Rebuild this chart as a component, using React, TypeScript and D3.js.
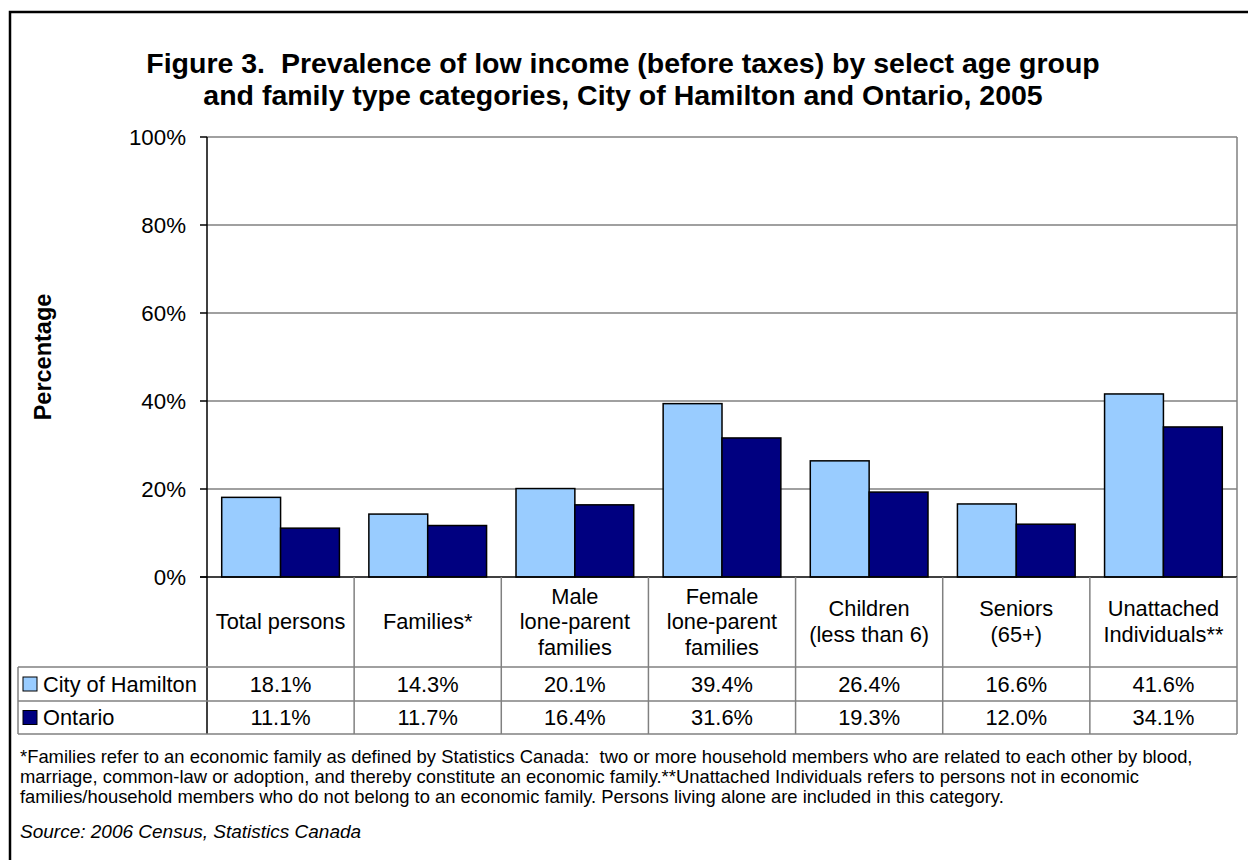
import React from "react";
import * as d3 from "d3";

const titleLines = [
  "Figure 3.  Prevalence of low income (before taxes) by select age group",
  "and family type categories, City of Hamilton and Ontario, 2005",
];
const categories: string[][] = [
  ["Total persons"],
  ["Families*"],
  ["Male", "lone-parent", "families"],
  ["Female", "lone-parent", "families"],
  ["Children", "(less than 6)"],
  ["Seniors", "(65+)"],
  ["Unattached", "Individuals**"],
];
const seriesNames = ["City of Hamilton", "Ontario"];
const hamilton = [18.1, 14.3, 20.1, 39.4, 26.4, 16.6, 41.6];
const ontario = [11.1, 11.7, 16.4, 31.6, 19.3, 12.0, 34.1];
const yTicks = [0, 20, 40, 60, 80, 100];
const yLabel = "Percentage";
const footnotes = [
  "*Families refer to an economic family as defined by Statistics Canada:  two or more household members who are related to each other by blood,",
  "marriage, common-law or adoption, and thereby constitute an economic family.**Unattached Individuals refers to persons not in economic",
  "families/household members who do not belong to an economic family. Persons living alone are included in this category.",
];
const sourceText = "Source: 2006 Census, Statistics Canada";

const colors = ["#99CCFF", "#000080"];
const FONT = "'Liberation Sans', Arial, Helvetica, sans-serif";

export default function App() {
  const W = 1248, H = 860;
  const L = 207, R = 1237, T = 137, B = 577;
  const headerBottom = 667, row1Bottom = 701, row2Bottom = 734;
  const tableLeft = 18;

  const x = d3.scaleBand<number>().domain(d3.range(categories.length)).range([L, R]).padding(0);
  const inner = d3.scaleBand<string>().domain(seriesNames).range([0, x.bandwidth()]).paddingInner(0).paddingOuter(0.25);
  const y = d3.scaleLinear().domain([0, 100]).range([B, T]);
  const series = [hamilton, ontario];
  const rowTops = [headerBottom, row1Bottom];
  const rowBottoms = [row1Bottom, row2Bottom];
  const fs = 21.8;

  return (
    <svg width={W} height={H} style={{ position: "absolute", left: 0, top: 0, background: "#fff" }} fontFamily={FONT}>
      <rect x={0} y={0} width={W} height={H} fill="#fff" />
      {/* outer border */}
      <rect x={10} y={12} width={W + 20} height={H + 20} fill="none" stroke="#000" strokeWidth={2.5} />
      {/* title */}
      {titleLines.map((t, i) => (
        <text key={i} x={623} y={73 + i * 32} textAnchor="middle" fontSize={28.5} fontWeight="bold" style={{ whiteSpace: "pre" }}>
          {t}
        </text>
      ))}
      {/* gridlines */}
      {yTicks.filter((v) => v > 0).map((v) => (
        <line key={v} x1={L} x2={R} y1={y(v)} y2={y(v)} stroke="#808080" strokeWidth={1.5} />
      ))}
      <line x1={R} x2={R} y1={T} y2={B} stroke="#808080" strokeWidth={1.5} />
      {/* bars */}
      {series.map((vals, s) =>
        vals.map((v, i) => (
          <rect
            key={s + "-" + i}
            x={(x(i) as number) + (inner(seriesNames[s]) as number)}
            y={y(v)}
            width={inner.bandwidth()}
            height={B - y(v)}
            fill={colors[s]}
            stroke="#000"
            strokeWidth={1.5}
          />
        ))
      )}
      {/* axes */}
      <line x1={L} x2={L} y1={T} y2={B} stroke="#000" strokeWidth={1.5} />
      {yTicks.map((v) => (
        <g key={v}>
          <line x1={200} x2={L} y1={y(v)} y2={y(v)} stroke="#000" strokeWidth={1.5} />
          <text x={186} y={y(v) + 8} textAnchor="end" fontSize={22.3}>
            {v + "%"}
          </text>
        </g>
      ))}
      <line x1={200} x2={R} y1={B} y2={B} stroke="#000" strokeWidth={1.5} />
      {/* y label */}
      <text transform={`translate(51,${(T + B) / 2}) rotate(-90)`} textAnchor="middle" fontSize={23.5} fontWeight="bold">
        {yLabel}
      </text>
      {/* table */}
      {d3.range(categories.length + 1).map((i) => {
        const xx = i < categories.length ? (x(i) as number) : R;
        return (
          <line key={"v" + i} x1={xx} x2={xx} y1={B} y2={row2Bottom} stroke={i === 0 ? "#000" : "#808080"} strokeWidth={1.5} />
        );
      })}
      <line x1={tableLeft} x2={tableLeft} y1={headerBottom} y2={row2Bottom} stroke="#808080" strokeWidth={1.5} />
      {[headerBottom, row1Bottom, row2Bottom].map((yy) => (
        <line key={yy} x1={tableLeft} x2={R} y1={yy} y2={yy} stroke="#808080" strokeWidth={1.5} />
      ))}
      {categories.map((lines, i) => {
        const cx = (x(i) as number) + x.bandwidth() / 2;
        const cy = (B + headerBottom) / 2;
        const lh = 25.5;
        return (
          <text key={"c" + i} x={cx} textAnchor="middle" fontSize={fs}>
            {lines.map((ln, j) => (
              <tspan key={j} x={cx} y={cy + (j - (lines.length - 1) / 2) * lh + 7}>
                {ln}
              </tspan>
            ))}
          </text>
        );
      })}
      {series.map((vals, s) => {
        const cy = (rowTops[s] + rowBottoms[s]) / 2;
        return (
          <g key={"r" + s}>
            <rect x={23} y={cy - 7} width={14} height={14} fill={colors[s]} stroke="#000" strokeWidth={1} />
            <text x={43} y={cy + 7.5} fontSize={fs}>
              {seriesNames[s]}
            </text>
            {vals.map((v, i) => (
              <text key={i} x={(x(i) as number) + x.bandwidth() / 2} y={cy + 7.5} textAnchor="middle" fontSize={fs}>
                {v.toFixed(1) + "%"}
              </text>
            ))}
          </g>
        );
      })}
      {/* footnotes */}
      {footnotes.map((f, i) => (
        <text key={"f" + i} x={20} y={763 + i * 20} fontSize={18.4} style={{ whiteSpace: "pre" }}>
          {f}
        </text>
      ))}
      <text x={20} y={838} fontSize={19} fontStyle="italic">
        {sourceText}
      </text>
    </svg>
  );
}
